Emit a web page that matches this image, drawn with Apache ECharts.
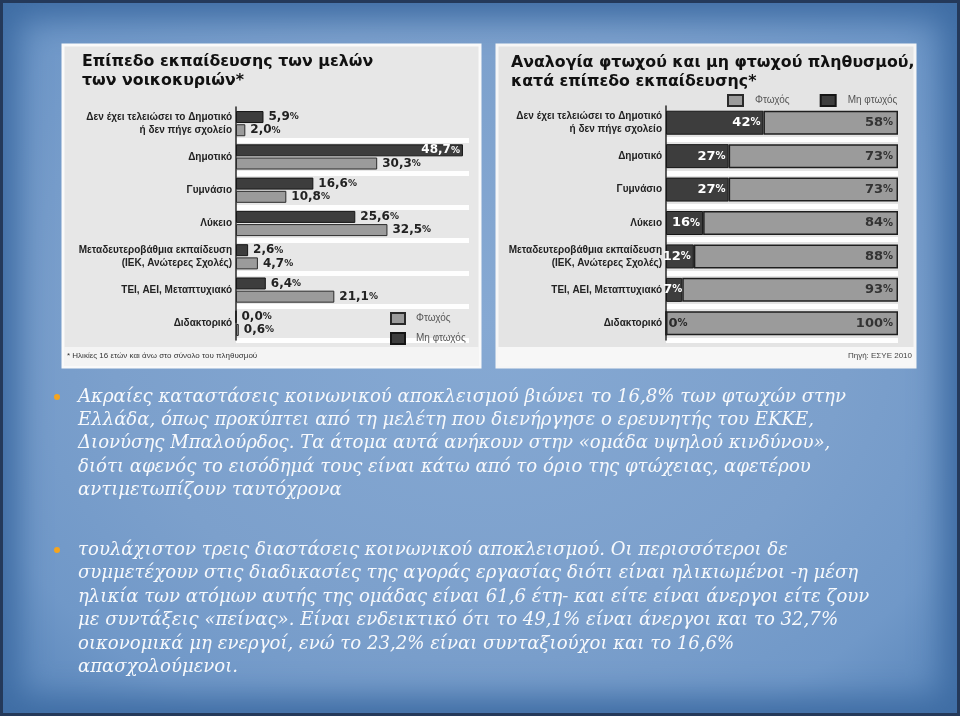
<!DOCTYPE html>
<html><head><meta charset="utf-8">
<script src="https://cdn.jsdelivr.net/npm/echarts@6/dist/echarts.min.js"></script>
<style>
html,body{margin:0;padding:0;width:960px;height:716px;overflow:hidden;background:#6f97c6;}
#bg{position:absolute;left:0;top:0;width:960px;height:716px;box-sizing:border-box;border:3px solid #24395a;
background:radial-gradient(ellipse at 50% 45%, #86a9d3 0%, #7ca0cc 55%, #7098c8 80%, #5683b8 100%);
box-shadow: inset 0 0 30px 16px #3f6da4;}
#chart{position:absolute;left:0;top:0;width:960px;height:716px;}
</style></head>
<body><div id="bg"></div><div id="chart"></div>
<script>
const categories = ['Δεν έχει τελειώσει το Δημοτικό\nή δεν πήγε σχολείο','Δημοτικό','Γυμνάσιο','Λύκειο','Μεταδευτεροβάθμια εκπαίδευση\n(ΙΕΚ, Ανώτερες Σχολές)','ΤΕΙ, ΑΕΙ, Μεταπτυχιακό','Διδακτορικό'];
const levelNonPoor = [5.9, 48.7, 16.6, 25.6, 2.6, 6.4, 0.0];
const levelPoor = [2.0, 30.3, 10.8, 32.5, 4.7, 21.1, 0.6];
const shareNonPoor = [42, 27, 27, 16, 12, 7, 0];
const sharePoor = [58, 73, 73, 84, 88, 93, 100];
const seriesPoor = 'Φτωχός';
const seriesNonPoor = 'Μη φτωχός';
const leftTitle = ['Επίπεδο εκπαίδευσης των μελών', 'των νοικοκυριών*'];
const rightTitle = ['Αναλογία φτωχού και μη φτωχού πληθυσμού,', 'κατά επίπεδο εκπαίδευσης*'];
const footnote = '* Ηλικίες 16 ετών και άνω στο σύνολο του πληθυσμού';
const sourceNote = 'Πηγή: ΕΣΥΕ 2010';
const bullet1 = [
 'Ακραίες καταστάσεις κοινωνικού αποκλεισμού βιώνει το 16,8% των φτωχών στην',
 'Ελλάδα, όπως προκύπτει από τη μελέτη που διενήργησε ο ερευνητής του ΕΚΚΕ,',
 'Διονύσης Μπαλούρδος. Τα άτομα αυτά ανήκουν στην «ομάδα υψηλού κινδύνου»,',
 'διότι αφενός το εισόδημά τους είναι κάτω από το όριο της φτώχειας, αφετέρου',
 'αντιμετωπίζουν ταυτόχρονα'];
const bullet2 = [
 'τουλάχιστον τρεις διαστάσεις κοινωνικού αποκλεισμού. Οι περισσότεροι δε',
 'συμμετέχουν στις διαδικασίες της αγοράς εργασίας διότι είναι ηλικιωμένοι -η μέση',
 'ηλικία των ατόμων αυτής της ομάδας είναι 61,6 έτη- και είτε είναι άνεργοι είτε ζουν',
 'με συντάξεις «πείνας». Είναι ενδεικτικό ότι το 49,1% είναι άνεργοι και το 32,7%',
 'οικονομικά μη ενεργοί, ενώ το 23,2% είναι συνταξιούχοι και το 16,6%',
 'απασχολούμενοι.'];

const DARK = '#3d3d3d', LIGHT = '#9b9b9b';
const numFont = 'DejaVu Sans';
const catFont = '"Liberation Sans",sans-serif';
const rich = {n:{fontSize:12,fontWeight:'bold',fontFamily:numFont}, p:{fontSize:9,fontWeight:'bold',fontFamily:numFont}};
const rich2 = {n:{fontSize:13,fontWeight:'bold',fontFamily:numFont}, p:{fontSize:10,fontWeight:'bold',fontFamily:numFont}};
const fmt1 = p => '{n|' + p.value.toFixed(1).replace('.', ',') + '}{p|%}';
const fmt0 = p => '{n|' + p.value + '}{p|%}';

const catAxis = (gi) => ({
  type:'category', gridIndex:gi, data:categories, inverse:true,
  axisLine:{show:true, lineStyle:{color:'#2a2a2a', width:1.5}},
  axisTick:{show:false},
  axisLabel:{margin:4, color:'#222', fontSize:10, fontWeight:'bold', fontFamily:catFont, lineHeight:13},
  splitLine:{show:true, interval:(i) => i > 0, lineStyle:{color:'#ffffff', width:5, opacity:0.95}}
});

const chart = echarts.init(document.getElementById('chart'), null, {renderer:'canvas'});
const textEl = (x, y, text, style) => ({type:'text', x, y, z:10, style:Object.assign({text, fill:'#111'}, style)});
const titleStyle = {fontSize:15.8, fontWeight:'bold', fontFamily:'DejaVu Sans', verticalAlign:'middle', fill:'#111'};
const paraStyle = {fontSize:18.1, fontStyle:'italic', fontFamily:'DejaVu Serif', fill:'#f7f9fc', verticalAlign:'top'};

const option = {
  animation:false,
  backgroundColor:'transparent',
  grid:[
    {left:236, top:107, width:233, height:233},
    {left:666, top:106, width:232, height:234}
  ],
  xAxis:[
    {type:'value', gridIndex:0, min:0, max:50, show:false},
    {type:'value', gridIndex:1, min:0, max:100, show:false}
  ],
  yAxis:[catAxis(0), catAxis(1)],
  legend:[
    {data:[seriesPoor, seriesNonPoor], orient:'vertical', left:390, top:312, padding:0, itemWidth:14, itemHeight:11, itemGap:7,
     icon:'rect', itemGap:7, textStyle:{fontSize:10, color:'#555', fontFamily:catFont, padding:[0,0,0,6]}},
    {data:[seriesPoor, seriesNonPoor], orient:'horizontal', left:727, top:94, padding:0, itemWidth:15, itemHeight:11, itemGap:30,
     icon:'rect', textStyle:{fontSize:10, color:'#555', fontFamily:catFont, padding:[0,0,0,7]}}
  ],
  series:[
    {name:seriesNonPoor, type:'bar', xAxisIndex:0, yAxisIndex:0, barWidth:12, barGap:'10%',
     data: levelNonPoor.map(v => v > 40 ? {value:v, label:{position:'insideRight', color:'#fff', distance:3}} : v),
     itemStyle:{color:DARK, borderColor:'#151515', borderWidth:1},
     label:{show:true, position:'right', distance:5, color:'#222', formatter:fmt1, rich}},
    {name:seriesPoor, type:'bar', xAxisIndex:0, yAxisIndex:0, barWidth:12, barGap:'10%',
     data: levelPoor,
     itemStyle:{color:LIGHT, borderColor:'#2a2a2a', borderWidth:1},
     label:{show:true, position:'right', distance:5, color:'#222', formatter:fmt1, rich}},
    {name:seriesNonPoor, type:'bar', xAxisIndex:1, yAxisIndex:1, stack:'share', barWidth:24,
     data: shareNonPoor.map(v => v === 0 ? {value:v, label:{position:'right', color:'#2a2a2a', distance:2}}
                                 : v < 10 ? {value:v, label:{distance:0}} : v),
     itemStyle:{color:DARK, borderColor:'#151515', borderWidth:1},
     label:{show:true, position:'insideRight', distance:3, color:'#fff', formatter:fmt0, rich:rich2}},
    {name:seriesPoor, type:'bar', xAxisIndex:1, yAxisIndex:1, stack:'share', barWidth:24,
     data: sharePoor,
     itemStyle:{color:LIGHT, borderColor:'#1e1e1e', borderWidth:1.5},
     label:{show:true, position:'insideRight', distance:5, color:'#333', formatter:fmt0, rich:rich2}}
  ],
  graphic:[
    {type:'rect', z:-5, shape:{x:63, y:45, width:417, height:322}, style:{fill:'#e7e7e7', stroke:'#fafafa', lineWidth:3}},
    {type:'rect', z:-4, shape:{x:64, y:347, width:415, height:19}, style:{fill:'#f4f4f4'}},
    {type:'rect', z:-5, shape:{x:497, y:45, width:418, height:322}, style:{fill:'#e4e4e4', stroke:'#f6f6f6', lineWidth:3}},
    {type:'rect', z:-4, shape:{x:498, y:347, width:416, height:19}, style:{fill:'#f7f7f7'}},
    textEl(82, 62, leftTitle[0], titleStyle),
    textEl(82, 81, leftTitle[1], titleStyle),
    textEl(511, 63, rightTitle[0], titleStyle),
    textEl(511, 82, rightTitle[1], titleStyle),
    textEl(67, 356, footnote, {fontSize:8, fontFamily:catFont, fill:'#333', verticalAlign:'middle'}),
    textEl(912, 356, sourceNote, {fontSize:8, fontFamily:catFont, fill:'#444', align:'right', verticalAlign:'middle'}),
    {type:'circle', z:10, shape:{cx:57, cy:397, r:3}, style:{fill:'#f5a41e'}},
    {type:'circle', z:10, shape:{cx:57, cy:550, r:3}, style:{fill:'#f5a41e'}},
    textEl(78, 385.5, bullet1.join('\n'), Object.assign({lineHeight:23.3}, paraStyle)),
    textEl(78, 538.5, bullet2.join('\n'), Object.assign({lineHeight:23.4}, paraStyle))
  ]
};
chart.setOption(option);
</script>
</body></html>
